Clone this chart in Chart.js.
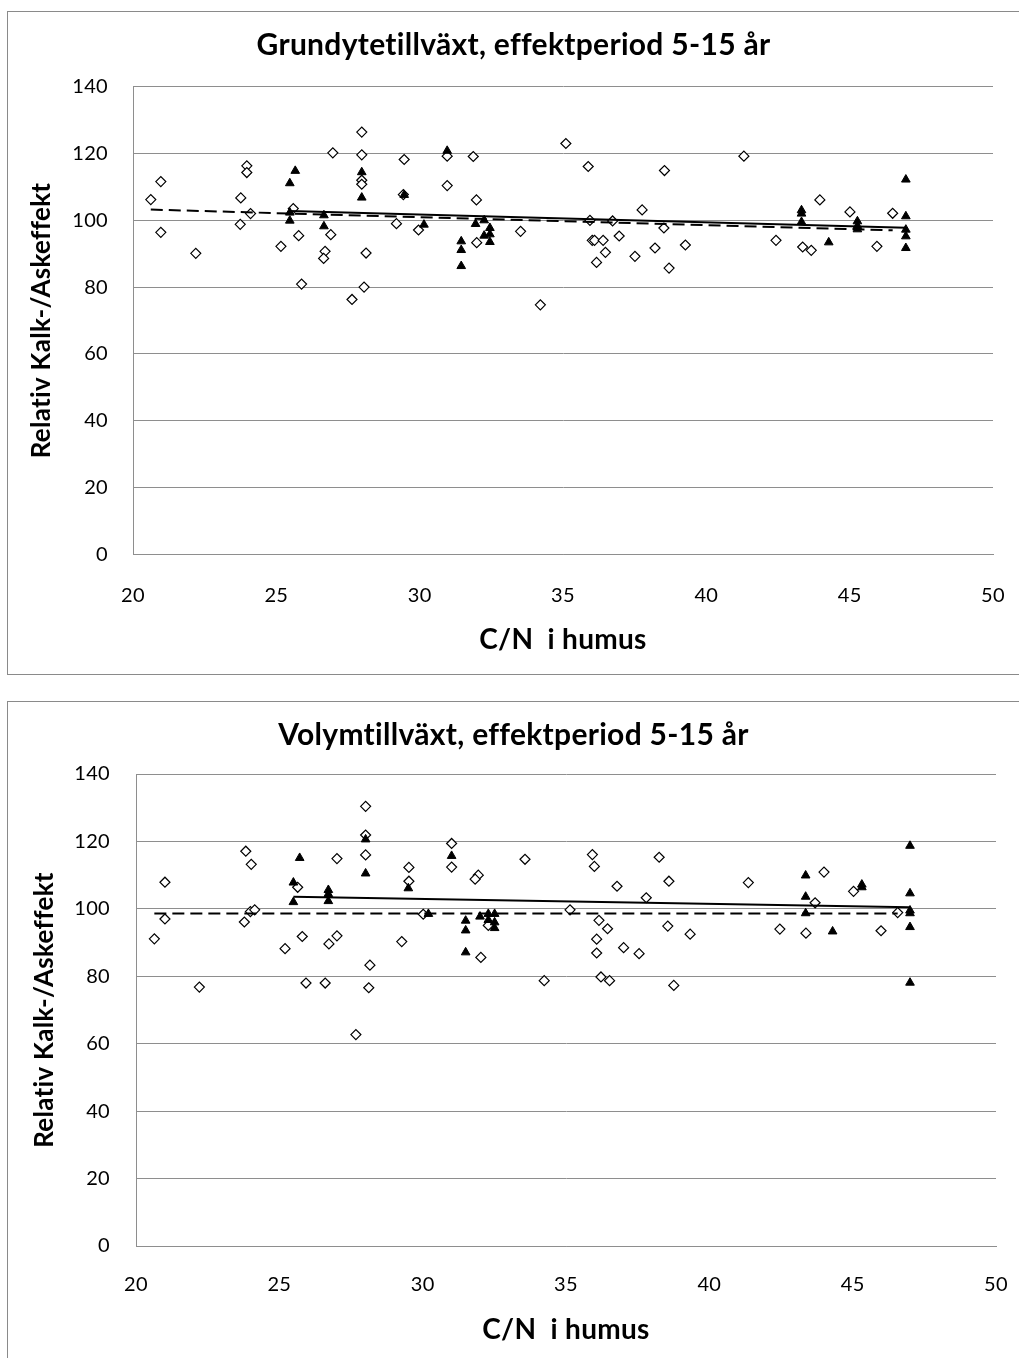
<!DOCTYPE html>
<html lang="sv">
<head>
    <meta charset="UTF-8">
    <title>Kalk-/Askeffekt mot C/N i humus</title>
    <script src="https://cdn.jsdelivr.net/npm/chart.js"></script>
    <style>
        body { margin: 0; background: #fff; width: 1019px; height: 1358px; overflow: hidden; position: relative; }
        .box { position: absolute; left: 7px; width: 1030px; border: 1px solid #8a8a8a; background: #fff; }
        #box1 { top: 11px; height: 662px; }
        #box2 { top: 701px; height: 700px; }
        canvas { position: absolute; left: 0; top: 0; }
    </style>
</head>
<body>
    <div class="box" id="box1"><canvas id="grundyta" width="1011" height="662"></canvas></div>
    <div class="box" id="box2"><canvas id="volym" width="1011" height="656"></canvas></div>

    <script>
        // Grundytetillväxt - öppna romber
        const gyOpenX = [20.62, 20.97, 20.97, 22.19, 23.76, 23.74, 23.97, 23.97, 24.1, 25.16, 25.59, 25.78, 25.88, 26.97, 26.9, 26.7, 26.65,
            27.98, 27.98, 27.98, 27.98, 28.13, 28.06, 27.64, 29.46, 29.43, 29.19, 29.96, 30.96, 30.96, 31.87, 31.98, 31.99, 33.52, 34.21,
            35.1, 35.88, 35.94, 36.02, 36.1, 36.4, 36.17, 36.48, 36.73, 36.96, 37.51, 37.76, 38.21, 38.54, 38.52, 38.7, 39.27, 41.31,
            42.43, 43.36, 43.66, 43.96, 45.01, 45.95, 46.5];
        const gyOpenY = [106.2, 111.6, 96.4, 90.1, 106.7, 98.8, 116.3, 114.3, 102, 92.2, 103.5, 95.4, 80.9, 120.2, 95.7, 90.7, 88.6,
            126.4, 119.6, 112, 110.8, 90.2, 80, 76.3, 118.2, 107.7, 99, 97.1, 119.2, 110.4, 119.1, 106.1, 93.3, 96.7, 74.7,
            123, 116.1, 100, 94, 94, 94, 87.4, 90.4, 99.8, 95.3, 89.2, 103.1, 91.7, 114.9, 97.7, 85.7, 92.6, 119.2,
            94, 92, 91, 106.1, 102.5, 92.2, 102.1];
        // Grundytetillväxt - fyllda trianglar
        const gyFilledX = [25.66, 25.47, 25.47, 25.47, 26.66, 26.66, 27.98, 27.98, 29.46, 30.15, 30.96, 31.45, 31.45, 31.45, 31.95, 32.25,
            32.25, 32.45, 32.45, 32.45, 43.32, 43.32, 43.32, 44.27, 45.27, 45.27, 45.27, 46.96, 46.96, 46.96, 46.96, 46.96];
        const gyFilledY = [114.8, 111.1, 102.3, 99.9, 101.5, 98.2, 114.4, 106.8, 107.6, 98.7, 120.8, 93.7, 91.1, 86.3, 98.9, 100,
            95.4, 97.7, 95.8, 93.5, 103, 102, 99.5, 93.4, 99.7, 98.3, 97.3, 112.2, 101.2, 97.2, 95.2, 91.7];
        // trendlinjer (start, slut)
        const gyTrendFilledX = [25.47, 46.96];
        const gyTrendFilledY = [102.8, 97.8];
        const gyTrendOpenX = [20.62, 46.5];
        const gyTrendOpenY = [103.2, 97.0];

        // Volymtillväxt - öppna romber
        const volOpenX = [20.64, 21.01, 21.01, 22.21, 23.83, 24.02, 23.78, 23.99, 24.14, 25.2, 25.64, 25.8, 25.93, 26.73, 27.01, 27.01,
            26.6, 27.67, 28.01, 28.01, 28.01, 28.16, 28.12, 29.27, 29.52, 29.52, 30.02, 31.01, 31.01, 31.94, 31.83, 32.03, 32.29, 33.57,
            34.24, 35.14, 35.92, 35.99, 36.15, 36.07, 36.07, 36.45, 36.22, 36.52, 36.78, 37.01, 37.55, 37.8, 38.25, 38.59, 38.55, 38.76,
            39.33, 41.36, 42.46, 43.37, 43.69, 44, 45.03, 45.99, 46.57];
        const volOpenY = [91.1, 107.9, 97, 76.8, 117.1, 113.2, 96.1, 99.2, 99.7, 88.2, 106.4, 91.8, 78, 89.6, 92, 114.9,
            78, 62.7, 130.4, 121.9, 116, 83.3, 76.6, 90.3, 112.3, 108.2, 98.4, 119.4, 112.4, 110, 108.8, 85.6, 95.1, 114.7,
            78.7, 99.7, 116.1, 112.6, 96.6, 91, 86.9, 94.1, 79.8, 78.7, 106.7, 88.5, 86.7, 103.3, 115.3, 108.2, 94.9, 77.3,
            92.5, 107.8, 94, 92.8, 101.8, 110.9, 105.2, 93.5, 98.9];
        // Volymtillväxt - fyllda trianglar
        const volFilledX = [25.71, 25.49, 25.49, 26.71, 26.71, 26.71, 28.01, 28.01, 29.5, 30.2, 31.01, 31.5, 31.5, 31.5, 32, 32.29,
            32.29, 32.51, 32.51, 32.51, 43.36, 43.36, 43.36, 44.3, 45.32, 45.32, 47, 47, 47, 47, 47, 47];
        const volFilledY = [115.1, 107.8, 102, 105.6, 104.4, 102.3, 120.6, 110.5, 106.1, 98.5, 115.7, 96.5, 93.6, 87.1, 97.7, 98.5,
            96.7, 98.5, 96, 94.3, 109.9, 103.6, 98.7, 93.3, 107.2, 106.4, 118.7, 104.6, 99.5, 98.7, 94.6, 78.1];
        const volTrendFilledX = [25.49, 47];
        const volTrendFilledY = [103.6, 100.5];
        const volTrendOpenX = [20.64, 46.57];
        const volTrendOpenY = [98.6, 98.6];

        const xTicks = [20, 25, 30, 35, 40, 45, 50];
        const yTicks = [0, 20, 40, 60, 80, 100, 120, 140];

        const FONT = 'Lato, "Open Sans", sans-serif';
        const GRID = '#8e8e8e';

        // a little letter spacing keeps Lato from joining "ti" into a ligature
        const noLigatures = {
            id: 'noLigatures',
            afterInit: c => { c.ctx.letterSpacing = '0.3px'; },
            beforeDraw: c => { c.ctx.letterSpacing = '0.3px'; }
        };

        function pts(xs, ys) {
            return xs.map((x, i) => ({ x: x, y: ys[i] }));
        }

        function makeChart(id, title, d, lay) {
            return new Chart(document.getElementById(id), {
                type: 'scatter',
                plugins: [noLigatures],
                data: {
                    datasets: [
                        {
                            label: 'trend kalk/aska',
                            data: pts(d.tfx, d.tfy),
                            showLine: true,
                            borderColor: '#000',
                            borderWidth: 2,
                            pointRadius: 0,
                            order: 0
                        },
                        {
                            label: 'trend',
                            data: pts(d.tox, d.toy),
                            showLine: true,
                            borderColor: '#000',
                            borderWidth: 2,
                            borderDash: [12, 6],
                            pointRadius: 0,
                            order: 0
                        },
                        {
                            label: 'trianglar',
                            data: pts(d.fx, d.fy),
                            pointStyle: 'triangle',
                            pointRadius: 5,
                            backgroundColor: '#000',
                            borderColor: '#000',
                            borderWidth: 1,
                            order: 1
                        },
                        {
                            label: 'romber',
                            data: pts(d.ox, d.oy),
                            pointStyle: 'rectRot',
                            pointRadius: 5,
                            backgroundColor: '#fff',
                            borderColor: '#000',
                            borderWidth: 1.2,
                            order: 2
                        }
                    ]
                },
                options: {
                    responsive: false,
                    animation: false,
                    events: [],
                    layout: { padding: 0 },
                    plugins: {
                        legend: { display: false },
                        tooltip: { enabled: false },
                        title: {
                            display: true,
                            text: title,
                            color: '#000',
                            font: { family: FONT, size: 30, weight: 'bold', lineHeight: 1.2 },
                            padding: { top: lay.titleTop, bottom: lay.titleBottom }
                        }
                    },
                    scales: {
                        x: {
                            type: 'linear',
                            min: 20,
                            max: 50,
                            afterBuildTicks: s => { s.ticks = xTicks.map(v => ({ value: v })); },
                            afterFit: s => {
                                s.height = lay.xHeight;
                                s.paddingLeft = 0;
                                s.paddingRight = lay.right;
                            },
                            grid: { display: false, drawTicks: false },
                            border: { display: true, color: GRID, width: 1 },
                            ticks: { color: '#000', padding: lay.xTickPad, font: { family: FONT, size: 20 } },
                            title: {
                                display: true,
                                text: 'C/N  i humus',
                                color: '#000',
                                font: { family: FONT, size: 28, weight: 'bold', lineHeight: 1.2 },
                                padding: { top: 0, bottom: lay.xTitlePad }
                            }
                        },
                        y: {
                            type: 'linear',
                            min: 0,
                            max: 140,
                            afterBuildTicks: s => { s.ticks = yTicks.map(v => ({ value: v })); },
                            afterFit: s => {
                                s.width = lay.yWidth;
                                s.paddingTop = 0;
                                s.paddingBottom = 0;
                            },
                            grid: { color: GRID, lineWidth: 1, drawTicks: false },
                            border: { display: true, color: GRID, width: 1 },
                            ticks: { color: '#000', padding: lay.yTickPad, font: { family: FONT, size: 20 } },
                            title: {
                                display: true,
                                text: 'Relativ Kalk-/Askeffekt',
                                color: '#000',
                                font: { family: FONT, size: 26, weight: 'bold', lineHeight: 1.2 },
                                padding: { top: lay.yTitlePad, bottom: 0 }
                            }
                        }
                    }
                }
            });
        }

        makeChart('grundyta', 'Grundytetillväxt, effektperiod 5-15 år',
            { ox: gyOpenX, oy: gyOpenY, fx: gyFilledX, fy: gyFilledY,
              tfx: gyTrendFilledX, tfy: gyTrendFilledY, tox: gyTrendOpenX, toy: gyTrendOpenY },
            { right: 26, titleTop: 15.6, titleBottom: 23.1, xHeight: 119.7, xTickPad: 29, xTitlePad: 17.2,
              yWidth: 125, yTickPad: 25, yTitlePad: 18.4 });

        makeChart('volym', 'Volymtillväxt, effektperiod 5-15 år',
            { ox: volOpenX, oy: volOpenY, fx: volFilledX, fy: volFilledY,
              tfx: volTrendFilledX, tfy: volTrendFilledY, tox: volTrendOpenX, toy: volTrendOpenY },
            { right: 23, titleTop: 15, titleBottom: 21, xHeight: 112, xTickPad: 27, xTitlePad: 11.2,
              yWidth: 128, yTickPad: 26, yTitlePad: 21.4 });
    </script>
</body>
</html>
